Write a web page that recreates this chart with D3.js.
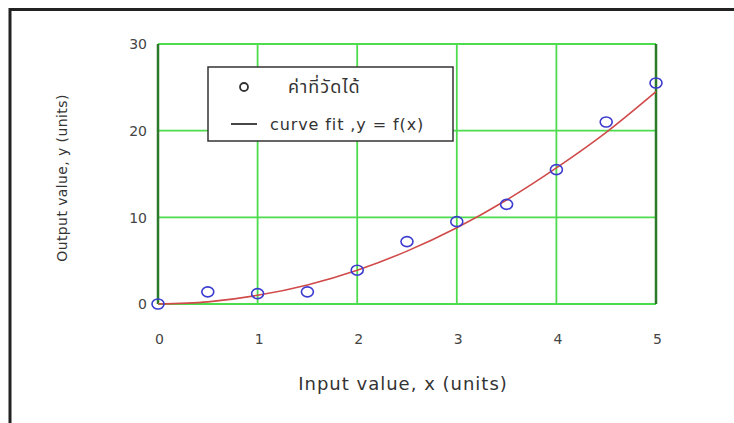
<!DOCTYPE html>
<html><head><meta charset="utf-8">
<script src="https://cdn.jsdelivr.net/npm/d3@7"></script>
<style>
html,body{margin:0;padding:0;background:#fff;}
svg{display:block;}
text{font-family:"DejaVu Sans",Verdana,sans-serif;}
</style></head>
<body>
<svg id="c" width="734" height="423"></svg>
<script>
// data
const measuredX = [0, 0.5, 1, 1.5, 2, 2.5, 3, 3.5, 4, 4.5, 5];
const measuredY = [0, 1.4, 1.2, 1.4, 3.9, 7.2, 9.5, 11.5, 15.5, 21, 25.5];
const fitX = [0, 0.5, 1, 1.5, 2, 2.5, 3, 3.5, 4, 4.5, 5];
const fitY = [0, 0.25, 1.0, 2.2, 3.9, 6.1, 8.8, 12.0, 15.7, 19.8, 24.5];
const xTicks = [0, 1, 2, 3, 4, 5];
const yTicks = [0, 10, 20, 30];
const legendLabels = ["ค่าที่วัดได้", "curve fit ,y = f(x)"];
const xTitle = "Input value, x (units)";
const yTitle = "Output value, y (units)";

const svg = d3.select("#c");
// outer frame
svg.append("path").attr("d","M10,423 V9.5 H734").attr("fill","none").attr("stroke","#222").attr("stroke-width",3);

const x = d3.scaleLinear().domain([0,5]).range([158,656]);
const y = d3.scaleLinear().domain([0,30]).range([304,44]);

const g = svg.append("g");
// grid
g.selectAll(".gx").data(xTicks).join("line")
  .attr("x1",d=>x(d)).attr("x2",d=>x(d)).attr("y1",y(0)).attr("y2",y(30))
  .attr("stroke","#4ddc4d").attr("stroke-width",1.8);
g.selectAll(".gy").data(yTicks).join("line")
  .attr("x1",x(0)).attr("x2",x(5)).attr("y1",d=>y(d)).attr("y2",d=>y(d))
  .attr("stroke","#4ddc4d").attr("stroke-width",1.8);
// dark side borders
g.append("line").attr("x1",x(0)).attr("x2",x(0)).attr("y1",y(0)).attr("y2",y(30)).attr("stroke","#2a7a2a").attr("stroke-width",2.5);
g.append("line").attr("x1",x(5)).attr("x2",x(5)).attr("y1",y(0)).attr("y2",y(30)).attr("stroke","#2a7a2a").attr("stroke-width",2.5);

// axes (labels only)
const xa = svg.append("g").attr("transform",`translate(1,${y(0)+37})`)
  .call(d3.axisBottom(x).tickValues(xTicks).tickFormat(d3.format("d")).tickSize(0));
xa.select(".domain").remove();
xa.selectAll("text").attr("font-size",14).attr("fill","#444").attr("dy",0)
  .style("font-family","'DejaVu Sans',sans-serif");
const ya = svg.append("g").attr("transform",`translate(${x(0)-8},0)`)
  .call(d3.axisLeft(y).tickValues(yTicks).tickFormat(d3.format("d")).tickSize(0));
ya.select(".domain").remove();
ya.selectAll("text").attr("font-size",14).attr("fill","#444").attr("dy","0.35em")
  .style("font-family","'DejaVu Sans',sans-serif");

// curve
const line = d3.line().x(d=>x(d[0])).y(d=>y(d[1])).curve(d3.curveMonotoneX);
g.append("path").datum(fitX.map((v,i)=>[v,fitY[i]])).attr("d",line)
  .attr("fill","none").attr("stroke","#d04a4a").attr("stroke-width",1.6);
// points
g.selectAll(".pt").data(measuredX.map((v,i)=>[v,measuredY[i]])).join("ellipse")
  .attr("cx",d=>x(d[0])).attr("cy",d=>y(d[1])).attr("rx",6).attr("ry",5)
  .attr("fill","none").attr("stroke","#3b3bd0").attr("stroke-width",1.6);

// legend
const lg = svg.append("g");
lg.append("rect").attr("x",208).attr("y",67).attr("width",245).attr("height",74)
  .attr("fill","#fff").attr("stroke","#333").attr("stroke-width",1.5);
lg.append("circle").attr("cx",244).attr("cy",87).attr("r",4).attr("fill","none").attr("stroke","#333").attr("stroke-width",1.8);
lg.append("text").attr("x",288).attr("y",93).attr("font-size",18).attr("fill","#333")
  .attr("letter-spacing",1)
  .style("font-family","'Noto Sans Thai','Noto Sans','DejaVu Sans',sans-serif").text(legendLabels[0]);
lg.append("line").attr("x1",231).attr("x2",257).attr("y1",124).attr("y2",124).attr("stroke","#333").attr("stroke-width",1.8);
lg.append("text").attr("x",270).attr("y",130).attr("font-size",16).attr("letter-spacing",0.9).attr("fill","#333").text(legendLabels[1]);

// titles
svg.append("text").attr("x",403).attr("y",390).attr("text-anchor","middle").attr("font-size",18).attr("letter-spacing",1).attr("fill","#333").text(xTitle);
svg.append("text").attr("transform","translate(67,178) rotate(-90)").attr("text-anchor","middle").attr("font-size",14).attr("letter-spacing",0.4).attr("fill","#333").text(yTitle);
</script>
</body></html>
